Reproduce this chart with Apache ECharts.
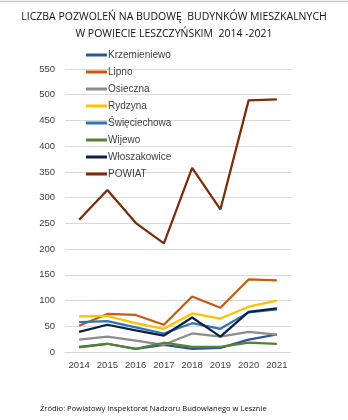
<!DOCTYPE html>
<html>
<head>
<meta charset="utf-8">
<script src="https://cdn.jsdelivr.net/npm/echarts@6/dist/echarts.min.js"></script>
<style>
  html, body { margin: 0; padding: 0; background: #fff; }
  #chart { width: 348px; height: 420px; }
</style>
</head>
<body>
<div id="chart"></div>
<script>
// Building permits issued per gmina, powiat leszczyński
const years = ['2014', '2015', '2016', '2017', '2018', '2019', '2020', '2021'];
const seriesNames = ['Krzemieniewo', 'Lipno', 'Osieczna', 'Rydzyna', 'Święciechowa', 'Wijewo', 'Włoszakowice', 'POWIAT'];
const krzemieniewo = [10, 16, 6, 14, 6, 8, 24, 34];
const lipno        = [51, 74, 72, 53, 108, 86, 141, 139];
const osieczna     = [24, 30, 22, 14, 36, 30, 39, 34];
const rydzyna      = [69, 70, 56, 45, 75, 65, 88, 100];
const swieciechowa = [58, 60, 48, 36, 56, 45, 77, 83];
const wijewo       = [9, 16, 6, 18, 10, 10, 18, 16];
const wloszakowice = [39, 53, 42, 32, 67, 30, 78, 85];
const powiat       = [257, 315, 251, 211, 358, 277, 489, 491];
const yTicks = [0, 50, 100, 150, 200, 250, 300, 350, 400, 450, 500, 550];

const values = [krzemieniewo, lipno, osieczna, rydzyna, swieciechowa, wijewo, wloszakowice, powiat];
const colors = ['#2F5597', '#C55A11', '#8C8C8C', '#FFC000', '#2E75B6', '#548235', '#0E1F45', '#7B2C0A'];

const chart = echarts.init(document.getElementById('chart'), null, { renderer: 'canvas' });
chart.setOption({
  backgroundColor: '#ffffff',
  animation: false,
  color: colors,
  title: {
    text: 'LICZBA POZWOLEŃ NA BUDOWĘ  BUDYNKÓW MIESZKALNYCH\nW POWIECIE LESZCZYŃSKIM  2014 -2021',
    left: 'center',
    top: 4,
    textStyle: {
      fontFamily: 'Open Sans',
      fontSize: 10.5,
      fontWeight: 'normal',
      color: '#111',
      lineHeight: 17,
      align: 'center'
    }
  },
  legend: {
    orient: 'vertical',
    left: 81,
    top: 43,
    icon: 'rect',
    itemWidth: 21,
    itemHeight: 3,
    itemGap: 3,
    data: seriesNames,
    textStyle: { fontFamily: 'Liberation Sans', fontSize: 10, color: '#404040', lineHeight: 14, padding: [0, 0, 0, -4] }
  },
  grid: { left: 65, right: 57, top: 69, bottom: 68, containLabel: false },
  xAxis: {
    type: 'category',
    data: years,
    boundaryGap: true,
    axisLine: { show: true, lineStyle: { color: '#D9D9D9' } },
    axisTick: { show: false },
    axisLabel: { interval: 0, fontFamily: 'Liberation Sans', fontSize: 9.5, color: '#404040', margin: 8 }
  },
  yAxis: {
    type: 'value',
    min: yTicks[0],
    max: yTicks[yTicks.length - 1],
    interval: yTicks[1] - yTicks[0],
    axisLine: { show: false },
    axisTick: { show: false },
    splitLine: { lineStyle: { color: '#D9D9D9', width: 1 } },
    axisLabel: { fontFamily: 'Liberation Sans', fontSize: 9.5, color: '#404040', margin: 10 }
  },
  graphic: [
    { type: 'line', shape: { x1: 0, y1: 1.5, x2: 348, y2: 1.5 }, style: { stroke: '#C8C8C8', lineWidth: 1.5 } },
    {
      type: 'text', left: 40, top: 405,
      style: { text: 'Źródło: Powiatowy Inspektorat Nadzoru Budowlanego w Lesznie', fontFamily: 'Open Sans', fontSize: 7.6, fill: '#111' }
    }
  ],
  series: seriesNames.map((name, i) => ({
    name: name,
    type: 'line',
    data: values[i],
    symbol: 'none',
    lineStyle: { width: 2.25, color: colors[i] },
    itemStyle: { color: colors[i] },
    z: 2
  }))
});
</script>
</body>
</html>
